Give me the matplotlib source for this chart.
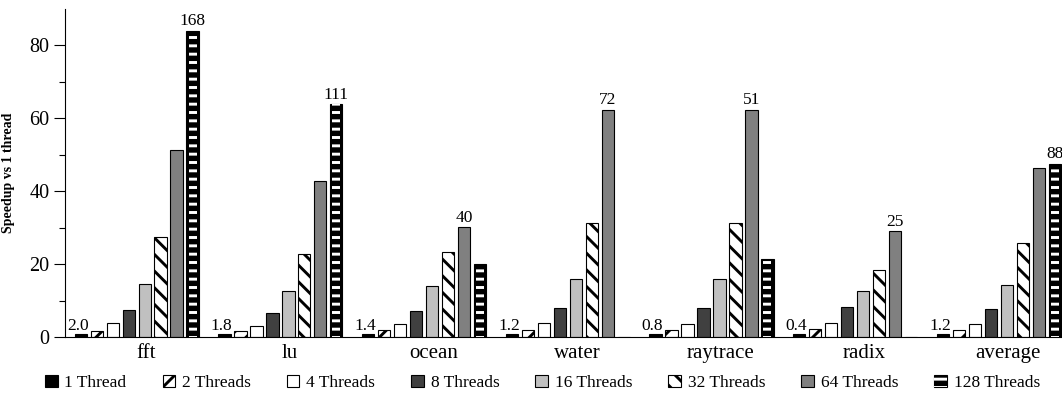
import matplotlib
matplotlib.use("Agg")
import matplotlib.pyplot as plt
import numpy as np
from matplotlib.legend_handler import HandlerTuple

plt.rcParams["font.family"] = ["Liberation Serif", "DejaVu Serif"]
plt.rcParams["hatch.linewidth"] = 2.1

# benchmarks and speedup per thread count
groups = ["fft", "lu", "ocean", "water", "raytrace", "radix", "average"]
series = ["1 Thread", "2 Threads", "4 Threads", "8 Threads",
          "16 Threads", "32 Threads", "64 Threads", "128 Threads"]
t1 = [1.0, 1.0, 1.0, 1.0, 1.0, 1.0, 1.0]
t2 = [1.6, 1.7, 1.9, 2.0, 2.0, 2.2, 2.0]
t4 = [3.8, 3.0, 3.7, 4.0, 3.7, 3.8, 3.6]
t8 = [7.5, 6.7, 7.3, 7.9, 7.9, 8.3, 7.7]
t16 = [14.5, 12.8, 14.1, 16.0, 16.1, 12.7, 14.3]
t32 = [27.5, 22.8, 23.5, 31.2, 31.2, 18.4, 25.8]
t64 = [51.4, 42.7, 30.2, 62.3, 62.4, 29.1, 46.5]
t128 = [84.0, 63.8, 20.0, 0.0, 21.5, 0.0, 47.5]

# numbers printed over the 1-thread bar and over the tallest bar
base_labels = ["2.0", "1.8", "1.4", "1.2", "0.8", "0.4", "1.2"]
peak_labels = ["168", "111", "40", "72", "51", "25", "88"]

values = [t1, t2, t4, t8, t16, t32, t64, t128]

# (facecolor, hatch)
styles = [
    ("black", None),
    ("white", "//"),
    ("white", None),
    ("#404040", None),
    ("#c0c0c0", None),
    ("white", "\\\\"),
    ("#808080", None),
    ("black", None),
]

fig = plt.figure(figsize=(10.62, 3.94), dpi=100)
ax = fig.add_axes([65 / 1062, 0.1439, 997 / 1062, 0.8338])

x = np.arange(len(groups))
pitch = 1 / 9
width = 0.0856
first = -0.454

handles = []
for j, (vals, (fc, hatch)) in enumerate(zip(values, styles)):
    pos = x + first + j * pitch
    bars = ax.bar(pos, vals, width, color=fc, edgecolor="black",
                  linewidth=0.8, hatch=hatch, zorder=2)
    if j == 7:
        # white horizontal stripes inset inside the black bars
        stripes = ax.bar(pos, vals, width - 0.03, color="none",
                         edgecolor="white", linewidth=0, hatch="--",
                         zorder=3)
        handles.append((bars, stripes))
    else:
        handles.append(bars)

# value labels
for i in range(len(groups)):
    ax.text(x[i] + first - 0.021, t1[i] + 1.1, base_labels[i],
            ha="center", va="baseline", fontsize=12.5)
    heights = [v[i] for v in values]
    k = int(np.argmax(heights))
    ax.text(x[i] + first + k * pitch, heights[k] + 1.5, peak_labels[i],
            ha="center", va="baseline", fontsize=12.5)

ax.set_xlim(-0.564, 6.374)
ax.set_ylim(0, 90)
ax.set_xticks(x)
ax.set_xticklabels(groups, fontsize=15)
ax.set_yticks([0, 20, 40, 60, 80])
ax.set_yticks([10, 30, 50, 70], minor=True)
ax.tick_params(axis="y", which="major", direction="out", length=8,
               width=0.8, labelsize=14.5, pad=3)
ax.tick_params(axis="y", which="minor", direction="out", length=4, width=0.8)
ax.tick_params(axis="x", length=0, pad=5)

for side in ["top", "right"]:
    ax.spines[side].set_visible(False)
for side in ["left", "bottom"]:
    ax.spines[side].set_linewidth(0.8)

ax.set_ylabel("Speedup vs 1 thread", fontsize=10, fontweight="bold")
ax.yaxis.set_label_coords(-50 / 997, 0.5)

fig.legend(handles, series, loc="center", ncol=8, mode="expand",
           bbox_to_anchor=(45 / 1062, 0.003, 995 / 1062, 0.05),
           frameon=False, fontsize=12.5, handlelength=0.72,
           handleheight=0.72, handletextpad=0.4, borderpad=0,
           borderaxespad=0,
           handler_map={tuple: HandlerTuple(ndivide=1)})

fig.savefig("out.png", dpi=100)
